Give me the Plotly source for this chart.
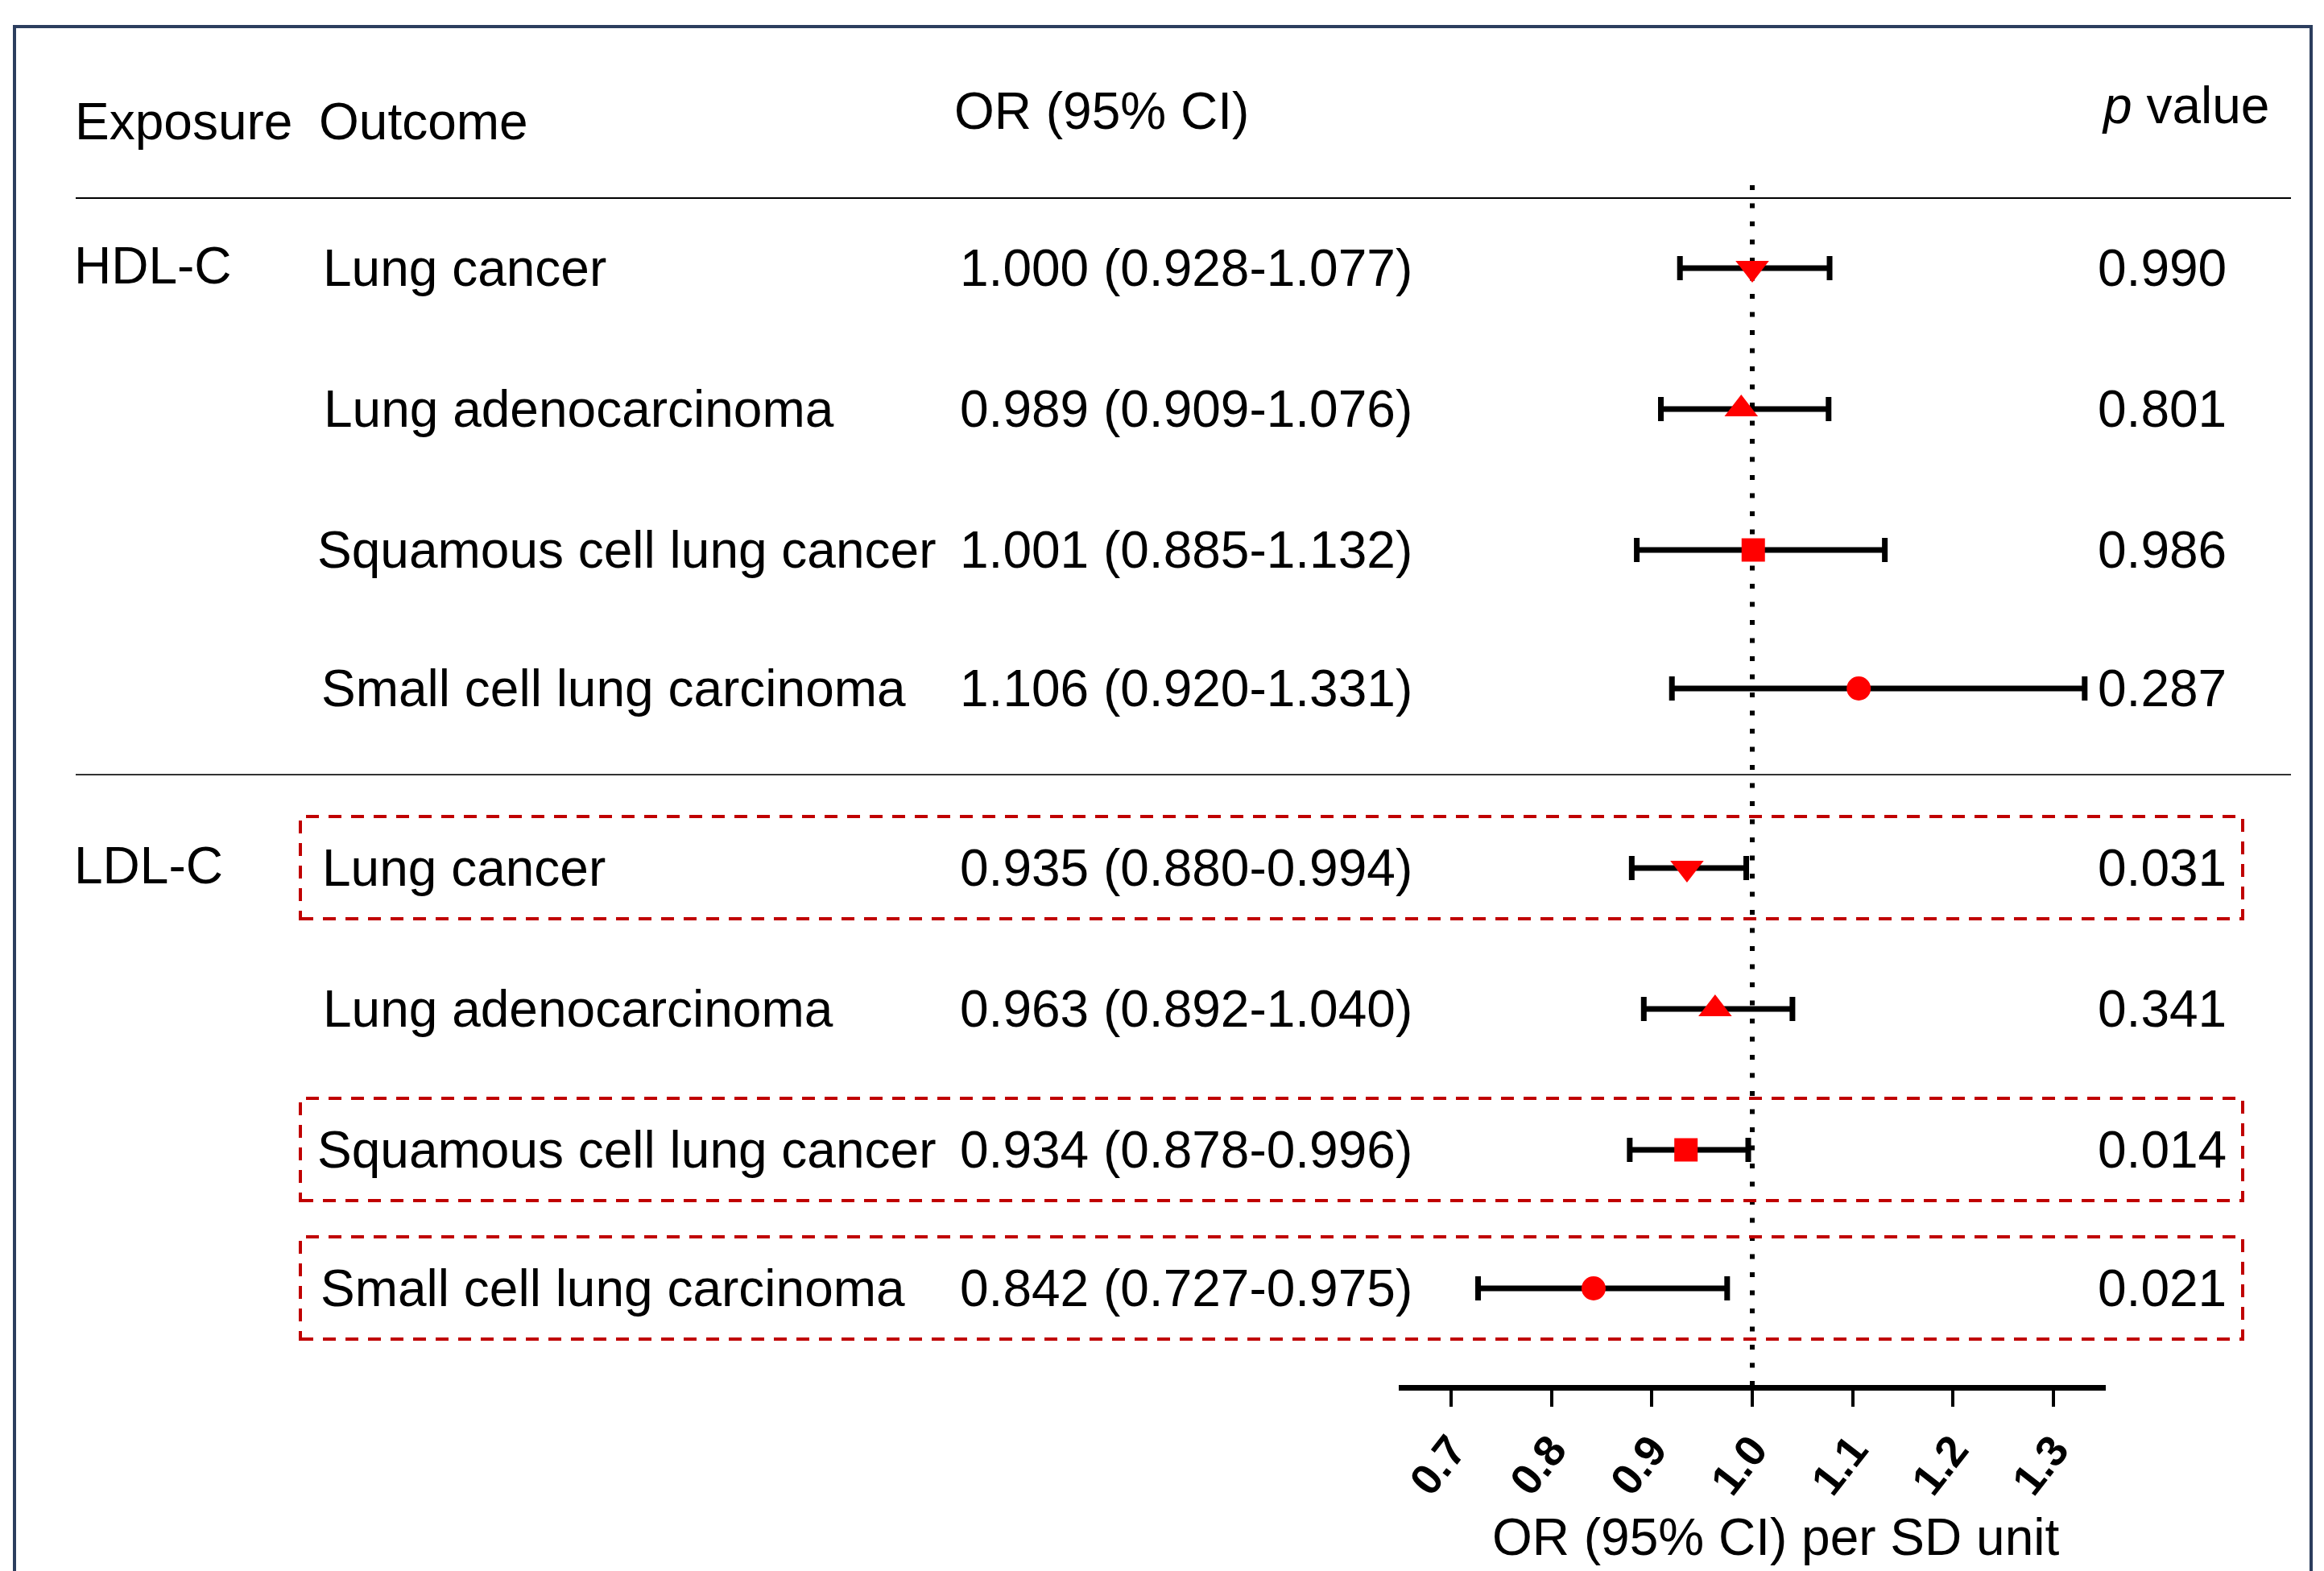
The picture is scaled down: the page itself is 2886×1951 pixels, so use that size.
import plotly.graph_objects as go

# ---------------- data ----------------
exposures = ["HDL-C", "HDL-C", "HDL-C", "HDL-C", "LDL-C", "LDL-C", "LDL-C", "LDL-C"]
outcomes = ["Lung cancer", "Lung adenocarcinoma", "Squamous cell lung cancer", "Small cell lung carcinoma",
            "Lung cancer", "Lung adenocarcinoma", "Squamous cell lung cancer", "Small cell lung carcinoma"]
or_vals = [1.000, 0.989, 1.001, 1.106, 0.935, 0.963, 0.934, 0.842]
ci_low = [0.928, 0.909, 0.885, 0.920, 0.880, 0.892, 0.878, 0.727]
ci_high = [1.077, 1.076, 1.132, 1.331, 0.994, 1.040, 0.996, 0.975]
p_vals = [0.990, 0.801, 0.986, 0.287, 0.031, 0.341, 0.014, 0.021]
tick_vals = [0.7, 0.8, 0.9, 1.0, 1.1, 1.2, 1.3]
tick_text = ["0.7", "0.8", "0.9", "1.0", "1.1", "1.2", "1.3"]
symbols = ["triangle-down", "triangle-up", "square", "circle"] * 2

# ---------------- layout helpers ----------------
W, H = 2886, 1951
ROW_Y = [333, 508, 683, 855, 1078, 1253, 1428, 1600]          # pixel rows (layout)
OUTCOME_X = [399, 400, 392, 397, 398, 399, 392, 396]          # pixel x of outcome labels (layout)
SYMBOL_SIZE = {"triangle-down": 36, "triangle-up": 36, "square": 29, "circle": 30}
FONT = "Arial, Liberation Sans, sans-serif"
RED = "#FF0000"


def px(x):
    return x / W


def py(y):
    return 1 - y / H


fig = go.Figure()

# reference line at OR = 1
fig.add_trace(go.Scatter(
    x=[1.0, 1.0], y=[230, 1722], mode="lines",
    line=dict(color="black", width=6, dash="6px,16.5px"),
    hoverinfo="skip", cliponaxis=False,
))

# point estimates with CIs
fig.add_trace(go.Scatter(
    x=or_vals, y=ROW_Y, mode="markers",
    marker=dict(symbol=symbols, size=[SYMBOL_SIZE[s] for s in symbols], color=RED,
                opacity=1, line=dict(width=0)),
    error_x=dict(type="data", symmetric=False,
                 array=[h - o for h, o in zip(ci_high, or_vals)],
                 arrayminus=[o - l for o, l in zip(or_vals, ci_low)],
                 color="black", thickness=7, width=15),
    cliponaxis=False, hoverinfo="skip",
))

annotations = []


def txt(x, y, s, xanchor="left", size=64, **kw):
    annotations.append(dict(
        x=px(x), y=py(y), xref="paper", yref="paper", text=s, showarrow=False,
        xanchor=xanchor, yanchor="middle",
        font=dict(family=FONT, size=size, color="black"), **kw))


# headers
txt(91, 151, "Exposure")
txt(394, 151, "Outcome")
txt(1183, 138, "OR (95% CI)")
txt(2820, 131, "<i>p</i> value", xanchor="right")

# rows
prev = None
for i in range(len(outcomes)):
    if exposures[i] != prev:
        txt(90, ROW_Y[i] - 3, exposures[i])
        prev = exposures[i]
    txt(OUTCOME_X[i], ROW_Y[i], outcomes[i])
    txt(1190, ROW_Y[i], f"{or_vals[i]:.3f} ({ci_low[i]:.3f}-{ci_high[i]:.3f})")
    txt(2767, ROW_Y[i], f"{p_vals[i]:.3f}", xanchor="right")

# axis title
txt(2205, 1909, "OR (95% CI) per SD unit", xanchor="center")

shapes = []
# outer frame (open at bottom of image)
shapes.append(dict(type="rect", xref="paper", yref="paper",
                   x0=px(18), x1=px(2870), y0=-0.05, y1=py(33),
                   line=dict(color="#2C3E5E", width=4), fillcolor="rgba(0,0,0,0)", layer="below"))
# header rule and group separator
shapes.append(dict(type="line", xref="paper", yref="paper", x0=px(94), x1=px(2845),
                   y0=py(246), y1=py(246), line=dict(color="black", width=2)))
shapes.append(dict(type="line", xref="paper", yref="paper", x0=px(94), x1=px(2845),
                   y0=py(962), y1=py(962), line=dict(color="#333333", width=2)))
# dashed red boxes around significant results
for i in range(len(p_vals)):
    if p_vals[i] < 0.05:
        shapes.append(dict(type="rect", xref="paper", yref="paper",
                           x0=px(373), x1=px(2785), y0=py(ROW_Y[i] + 63), y1=py(ROW_Y[i] - 64),
                           line=dict(color="#C00000", width=4, dash="16px,12px"),
                           fillcolor="rgba(0,0,0,0)"))

fig.update_layout(
    width=W, height=H,
    margin=dict(l=0, r=0, t=0, b=0),
    paper_bgcolor="white", plot_bgcolor="white",
    showlegend=False,
    annotations=annotations,
    shapes=shapes,
    xaxis=dict(
        domain=[px(1737), px(2615)], range=[0.648, 1.352],
        anchor="free", position=py(1723),
        showline=True, linewidth=7, linecolor="black",
        ticks="outside", ticklen=20, tickwidth=4, tickcolor="black",
        tickvals=tick_vals, ticktext=tick_text, tickangle=-52,
        tickfont=dict(family=FONT, size=54, color="black", weight="bold"),
        showgrid=False, zeroline=False, fixedrange=True,
    ),
    yaxis=dict(domain=[0, 1], range=[H, 0], visible=False, showgrid=False, zeroline=False),
)

fig.write_html("out.html", config={"displayModeBar": False, "staticPlot": True})

# remove the browser's default page margin so the figure sits at (0, 0)
with open("out.html", "r", encoding="utf-8") as f:
    html = f.read()
html = html.replace("<head>", "<head><style>html,body{margin:0;padding:0;overflow:hidden;}</style>", 1)
with open("out.html", "w", encoding="utf-8") as f:
    f.write(html)
